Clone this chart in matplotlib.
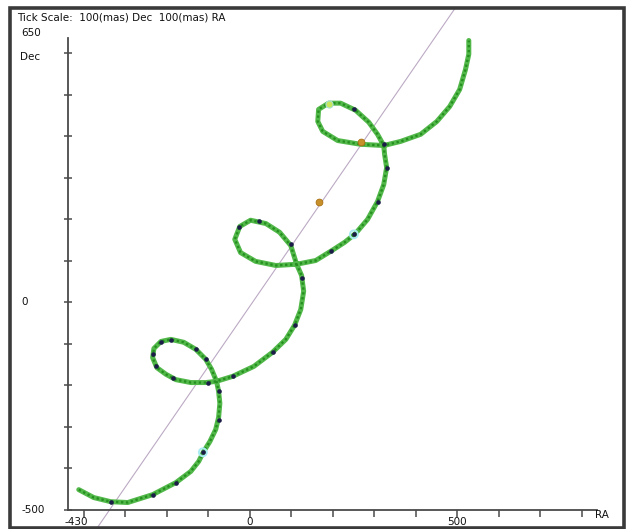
import matplotlib
matplotlib.use("Agg")
import matplotlib.pyplot as plt
from matplotlib.patches import Rectangle
import matplotlib.transforms as mtransforms

# ---- data (mas) ----
path_ra = [-412, -376, -335, -294, -234, -178, -142, -123, -111, -96, -82, -75, -72, -75, -80,
           -92, -106, -130, -159, -190, -214, -231, -234, -224, -202, -178, -142, -106, -80,
           -41, 10, 55, 87, 108, 123, 130, 125, 113, 99, 72, 39, 2, -24, -36, -22, 14, 63, 113,
           159, 198, 229, 255, 284, 308, 323, 330, 325, 323, 308, 287, 255, 219, 190, 166, 164,
           176, 212, 267, 323, 364, 412, 451, 482, 506, 520, 528, 528]
path_dec = [-451, -470, -480, -482, -463, -434, -407, -383, -359, -335, -306, -277, -243, -214, -190,
            -161, -137, -113, -96, -89, -94, -111, -133, -157, -173, -186, -193, -193, -190,
            -178, -154, -120, -89, -55, -17, 27, 65, 92, 137, 169, 190, 198, 183, 152, 120, 99, 89, 92,
            101, 125, 145, 166, 200, 243, 284, 325, 357, 378, 405, 434, 463, 480, 480, 465, 436,
            412, 390, 381, 378, 388, 405, 436, 472, 513, 561, 598, 631]

obs_ra = [-335, -234, -178, -113, -75, -75, -101, -186, -227, -234, -214, -190, -130, -106, -41, 55,
          108, 125, 99, 22, -27, 195, 251, 308, 330, 323, 251]
obs_dec = [-480, -463, -434, -361, -282, -214, -193, -183, -154, -125, -96, -91, -113, -137, -178, -120,
           -55, 60, 140, 195, 181, 123, 164, 243, 325, 381, 467]

ring_ra = [251, -113]
ring_dec = [164, -361]

special_ra = [190]
special_dec = [477]

ref_ra = [267, 166]
ref_dec = [386, 241]

diag_ra = [-400, 520]
diag_dec = [-590, 745]

x_major = [-430, 0, 500]
x_minor = [-400, -300, -200, -100, 0, 100, 200, 300, 400, 500, 600, 700, 800]
y_ticks = [-500, -400, -300, -200, -100, 0, 100, 200, 300, 400, 500, 600]
y_labels = [650, 0, -500]

W, H = 627, 529
fig = plt.figure(figsize=(W / 100, H / 100), dpi=100)
plt.rcParams['font.family'] = ['DejaVu Sans']

ax = fig.add_axes([68 / W, (H - 510) / H, (597 - 68) / W, (510 - 38) / H])
ax.set_xlim(-438, 837)
ax.set_ylim(-500, 637)
ax.set_facecolor('none')

for s in ['top', 'right']:
    ax.spines[s].set_visible(False)
for s in ['left', 'bottom']:
    ax.spines[s].set_color('#4a4a4a')
    ax.spines[s].set_linewidth(1.3)

ax.set_xticks(x_minor)
ax.set_xticklabels([])
ax.tick_params(axis='x', direction='out', length=5, width=1.1, color='#4a4a4a')
ax.set_yticks(y_ticks)
ax.set_yticklabels([])
ax.tick_params(axis='y', direction='inout', length=6, width=1.1, color='#4a4a4a')

# border frame
border = Rectangle((10 / W, 1 - 528 / H), (624 - 10) / W, (528 - 8) / H,
                   transform=fig.transFigure, fill=False, edgecolor='#3a3a3a', linewidth=2.6, zorder=10)
fig.add_artist(border)
clip_rect = Rectangle((10 / W, 1 - 528 / H), (624 - 10) / W, (528 - 8) / H,
                      transform=fig.transFigure, fill=False, edgecolor='none')

# diagonal reference line
dl, = ax.plot(diag_ra, diag_dec, color='#bcaac4', linewidth=0.8, clip_on=True, zorder=1)
dl.set_clip_path(clip_rect)

# path
ax.plot(path_ra, path_dec, color='#52b84a', linewidth=3.6, solid_capstyle='round',
        solid_joinstyle='round', zorder=2)
ax.plot(path_ra, path_dec, color='#25901f', linewidth=1.7, linestyle=(0, (1, 1.1)), zorder=3)

# observation markers
ax.scatter(ring_ra, ring_dec, s=32, facecolor='none', edgecolor='#a8ecf2', linewidth=1.4, zorder=4)
ax.scatter(obs_ra, obs_dec, s=11, color='#1c1c48', zorder=5, linewidths=0)
ax.scatter(special_ra, special_dec, s=26, color='#c8e65a', edgecolor='#a8e0d0', linewidth=0.8, zorder=5)
ax.scatter(ref_ra, ref_dec, s=24, color='#c8902a', edgecolor='#a87010', linewidth=0.6, zorder=6)

# texts
fs = 7.5
fig.text(17 / W, 1 - 17 / H, 'Tick Scale:  100(mas) Dec  100(mas) RA', fontsize=fs,
         ha='left', va='center', color='#111111')
fig.text(20 / W, 1 - 57 / H, 'Dec', fontsize=fs, ha='left', va='center', color='#111111')

ytr = mtransforms.blended_transform_factory(fig.transFigure, ax.transData)
for v in y_labels:
    fig.text(21 / W, v, str(v), transform=ytr, fontsize=fs, ha='left', va='center', color='#111111')

xtr = mtransforms.blended_transform_factory(ax.transData, fig.transFigure)
for v in x_major:
    xx = v + 12 if v == x_major[0] else v
    fig.text(xx, 1 - 522 / H, str(v), transform=xtr, fontsize=fs, ha='center', va='center', color='#111111')
fig.text(602 / W, 1 - 515 / H, 'RA', fontsize=fs, ha='center', va='center', color='#111111')

fig.savefig('out.png', dpi=100)
